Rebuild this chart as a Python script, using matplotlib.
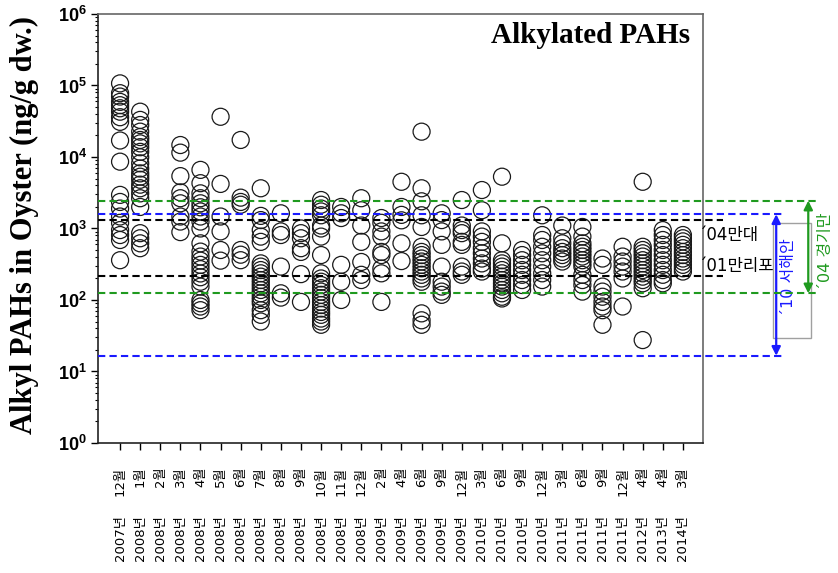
import matplotlib
matplotlib.use('Agg')
import matplotlib.pyplot as plt
import matplotlib.transforms as mtransforms
from matplotlib.patches import Rectangle
from matplotlib.ticker import LogLocator, NullFormatter

plt.rcParams['mathtext.fontset'] = 'custom'
plt.rcParams['mathtext.rm'] = 'Liberation Sans'
plt.rcParams['mathtext.bf'] = 'Liberation Sans:bold'

# ---- categories ----
years = ['2007', '2008', '2008', '2008', '2008', '2008', '2008', '2008', '2008', '2008',
         '2008', '2008', '2008', '2009', '2009', '2009', '2009', '2009', '2010', '2010',
         '2010', '2010', '2011', '2011', '2011', '2011', '2012', '2013', '2014']
months = ['12', '1', '2', '3', '4', '5', '6', '7', '8', '9', '10', '11', '12', '2', '4',
          '6', '9', '12', '3', '6', '9', '12', '3', '6', '9', '12', '4', '4', '3']

# ---- measured values (ng/g dw.) per sampling ----
s0712 = [107000, 78000, 70000, 59000, 53000, 48000, 43000, 36000, 31000, 17000, 8600,
         2950, 2350, 1900, 1470, 1200, 950, 810, 690, 360]
s0801 = [43000, 33000, 28000, 22600, 19000, 17300, 15500, 13700, 11800, 9900, 8150, 6900,
         5900, 5300, 4800, 4100, 3650, 3100, 2650, 2000, 860, 730, 620, 530]
s0802 = []
s0803 = [14700, 11500, 5400, 3200, 2650, 2250, 1470, 1250, 890]
s0804 = [6600, 4300, 3100, 2650, 2250, 1980, 1730, 1470, 1250, 1000, 620, 475, 405, 355,
         310, 270, 235, 208, 180, 154, 100, 90, 81, 72]
s0805 = [36500, 4200, 1470, 910, 500, 355]
s0806 = [17300, 2700, 2350, 2150, 500, 430, 360]
s0807 = [3650, 1500, 1310, 950, 770, 650, 325, 293, 262, 236, 212, 190, 171, 154, 138,
         124, 111, 100, 90, 72, 62, 50]
s0808 = [1630, 910, 810, 293, 124, 108]
s0809 = [1000, 860, 730, 530, 470, 230, 94]
s0810 = [2500, 2150, 1900, 1730, 1530, 1100, 1000, 770, 425, 236, 200, 180, 162, 146, 131,
         118, 106, 94, 85, 76, 68, 62, 55, 50, 45]
s0811 = [2000, 1630, 1400, 310, 180, 100]
s0812 = [2650, 1800, 1100, 650, 340, 225, 190]
s0902 = [1400, 1200, 910, 770, 470, 425, 275, 236, 94]
s0904 = [4500, 2000, 1550, 1300, 620, 350]
s0906 = [22600, 3650, 2400, 1530, 1050, 555, 470, 425, 380, 345, 310, 278, 250, 225, 200,
         180, 65, 52, 45]
s0909 = [1630, 1310, 910, 590, 293, 180, 154, 131, 118]
s0912 = [2500, 1100, 950, 860, 650, 590, 293, 250, 225]
s1003 = [3450, 1800, 910, 770, 650, 530, 450, 380, 325, 275, 250]
s1006 = [5300, 620, 360, 325, 293, 262, 236, 212, 190, 171, 154, 138, 124, 111, 105]
s1009 = [500, 425, 360, 310, 262, 225, 190, 162, 138]
s1012 = [1530, 810, 690, 555, 450, 360, 293, 236, 190, 154]
s1103 = [1100, 730, 620, 530, 470, 425, 380, 345]
s1106 = [1050, 770, 620, 555, 500, 450, 405, 360, 325, 293, 225, 190, 162, 131]
s1109 = [380, 310, 154, 131, 111, 94, 81, 72, 45]
s1112 = [555, 405, 345, 293, 250, 200, 81]
s1204 = [4500, 555, 500, 450, 405, 360, 325, 293, 262, 236, 212, 190, 171, 146, 27.5]
s1304 = [950, 810, 690, 590, 500, 425, 360, 310, 262, 225, 190, 171]
s1403 = [810, 730, 660, 590, 530, 470, 425, 380, 345, 310, 278, 250]

samples = [s0712, s0801, s0802, s0803, s0804, s0805, s0806, s0807, s0808, s0809, s0810,
           s0811, s0812, s0902, s0904, s0906, s0909, s0912, s1003, s1006, s1009, s1012,
           s1103, s1106, s1109, s1112, s1204, s1304, s1403]

# ---- reference ranges (ng/g dw.) ----
ref_black = [1315, 217]     # '04 만대 (upper), '01 만리포 (lower)
ref_blue = [1580, 16.6]     # '10 서해안 range
ref_green = [2450, 124]     # '04 경기만 range

KR = ['DejaVu Sans', 'Noto Sans CJK KR']

fig = plt.figure(figsize=(8.38, 5.73), dpi=100)
ax = fig.add_axes([0.1169, 0.2269, 0.722, 0.7487])

for i, vals in enumerate(samples):
    if vals:
        ax.scatter([i] * len(vals), vals, s=150, facecolors='none',
                   edgecolors='#1a1a1a', linewidths=0.9, zorder=3)

ax.set_yscale('log')
ax.set_ylim(1, 1e6)
ax.set_xlim(-1.1, 29.0)

ax.set_yticks([10 ** k for k in range(7)])
ax.set_yticklabels([r'$\mathbf{10^{%d}}$' % k for k in range(7)], fontsize=13)
ax.yaxis.set_minor_locator(LogLocator(base=10, subs=range(2, 10), numticks=20))
ax.yaxis.set_minor_formatter(NullFormatter())
ax.tick_params(axis='y', which='major', direction='out', length=5, width=1, pad=3)
ax.tick_params(axis='y', which='minor', direction='out', length=2.5, width=0.8)

ax.set_xticks(range(len(months)))
ax.set_xticklabels([m + '월' for m in months], rotation=90, va='top', ha='center',
                   fontsize=9.5, family=KR)
ax.tick_params(axis='x', direction='out', length=5, width=1, pad=12)

xtr = mtransforms.blended_transform_factory(ax.transData, ax.transAxes)
for i, y in enumerate(years):
    ax.text(i, -0.168, y + '년', transform=xtr, rotation=90, ha='center', va='top',
            fontsize=9.5, family=KR, clip_on=False)

for sp in ['left', 'bottom']:
    ax.spines[sp].set_color('#222222')
    ax.spines[sp].set_linewidth(1.2)
for sp in ['top', 'right']:
    ax.spines[sp].set_color('#666666')
    ax.spines[sp].set_linewidth(1.2)

# ---- reference lines ----
htr = mtransforms.blended_transform_factory(ax.transAxes, ax.transData)
dash = (0, (3.5, 2))
for v in ref_black:
    ax.plot([0, 1.033], [v, v], transform=htr, clip_on=False, ls=dash, lw=1.5,
            color='black', zorder=4)
for v in ref_blue:
    ax.plot([0, 1.131], [v, v], transform=htr, clip_on=False, ls=dash, lw=1.5,
            color='#1a1aff', zorder=4)
for v in ref_green:
    ax.plot([0, 1.190], [v, v], transform=htr, clip_on=False, ls=dash, lw=1.5,
            color='#1f9a1f', zorder=4)

# box around blue label
ax.add_patch(Rectangle((1.116, 0.245), 0.063, 0.268, transform=ax.transAxes,
                       fill=False, edgecolor='#a0a0a0', lw=1, clip_on=False))

ax.annotate('', xy=(1.121, ref_blue[1]), xytext=(1.121, ref_blue[0]),
            xycoords=htr, textcoords=htr, annotation_clip=False,
            arrowprops=dict(arrowstyle='<|-|>', color='#1a1aff', lw=1.6,
                            mutation_scale=13, shrinkA=0, shrinkB=0))
ax.annotate('', xy=(1.174, ref_green[1]), xytext=(1.174, ref_green[0]),
            xycoords=htr, textcoords=htr, annotation_clip=False,
            arrowprops=dict(arrowstyle='<|-|>', color='#1f9a1f', lw=1.6,
                            mutation_scale=13, shrinkA=0, shrinkB=0))

ax.text(0.993, 0.485, '´04만대', transform=ax.transAxes, ha='left', va='center',
        fontsize=12, family=KR, clip_on=False)
ax.text(0.993, 0.413, '´01만리포', transform=ax.transAxes, ha='left', va='center',
        fontsize=12, family=KR, clip_on=False)
ax.text(1.142, 0.387, '´10 서해안', transform=ax.transAxes, ha='center', va='center',
        rotation=90, fontsize=11.5, color='#1a1aff', family=KR, clip_on=False)
ax.text(1.203, 0.446, '´04 경기만', transform=ax.transAxes, ha='center', va='center',
        rotation=90, fontsize=11.5, color='#1f9a1f', family=KR, clip_on=False)

ax.text(0.9785, 0.949, 'Alkylated PAHs', transform=ax.transAxes, ha='right',
        va='center', fontsize=21, fontweight='bold', family='Liberation Serif')

fig.text(24 / 838, 0.607, 'Alkyl PAHs in Oyster (ng/g dw.)', rotation=90,
         ha='center', va='center', fontsize=22, fontweight='bold',
         family='Liberation Serif')

fig.savefig('out.png', dpi=100)
